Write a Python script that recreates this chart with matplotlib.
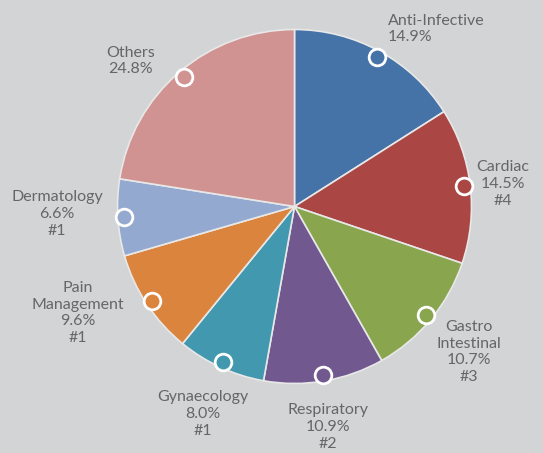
import numpy as np
import matplotlib.pyplot as plt

# Market share by therapy area
labels = ['Anti-Infective', 'Cardiac', 'Gastro\nIntestinal', 'Respiratory',
          'Gynaecology', 'Pain\nManagement', 'Dermatology', 'Others']
# percentages printed on the labels
shares = [14.9, 14.5, 10.7, 10.9, 8.0, 9.6, 6.6, 24.8]
# slice sizes as drawn in the picture (they differ a little from the labels)
slice_sizes = [16.0, 14.2, 11.6, 11.0, 8.1, 9.6, 7.0, 22.5]
ranks = ['', '#4', '#3', '#2', '#1', '#1', '#1', '']
colors = ['#4572a7', '#aa4643', '#89a54e', '#71588f',
          '#4198af', '#db843d', '#93a9cf', '#d19392']

W, H = 543, 453
bg = '#d3d4d5'
fig = plt.figure(figsize=(W / 100, H / 100), dpi=100, facecolor=bg)
ax = fig.add_axes([0, 0, 1, 1])
ax.set_facecolor(bg)

cx, cy, r = 294.5, H - 206.5, 177
wedges, _ = ax.pie(slice_sizes, colors=colors, startangle=90, counterclock=False,
                   center=(cx, cy), radius=r,
                   wedgeprops=dict(edgecolor='#e8e8e8', linewidth=1.2))
ax.set_xlim(0, W)
ax.set_ylim(0, H)
ax.set_aspect('equal')
ax.axis('off')

# label position (pixels from top-left) and alignment
lab_pos = [(388, 29, 'left'), (503, 184, 'center'), (469, 352, 'center'),
           (328, 427, 'center'), (203, 414, 'center'), (78, 313, 'center'),
           (57, 214, 'center'), (131, 61, 'center')]

for w, lab, s, rk, col, (lx, ly, ha) in zip(wedges, labels, shares, ranks, colors, lab_pos):
    mid = np.deg2rad((w.theta1 + w.theta2) / 2)
    mx = cx + 0.965 * r * np.cos(mid)
    my = cy + 0.965 * r * np.sin(mid)
    ax.plot(mx, my, 'o', ms=12, mfc=col, mec='white', mew=2, zorder=5)
    txt = f'{lab}\n{s:.1f}%'
    if rk:
        txt += f'\n{rk}'
    ax.text(lx, H - ly, txt, ha=ha, va='center', multialignment=ha,
            fontsize=11.5, color='#666666', family='Lato', linespacing=1.25)

fig.savefig('out.png', dpi=100, facecolor=bg)
